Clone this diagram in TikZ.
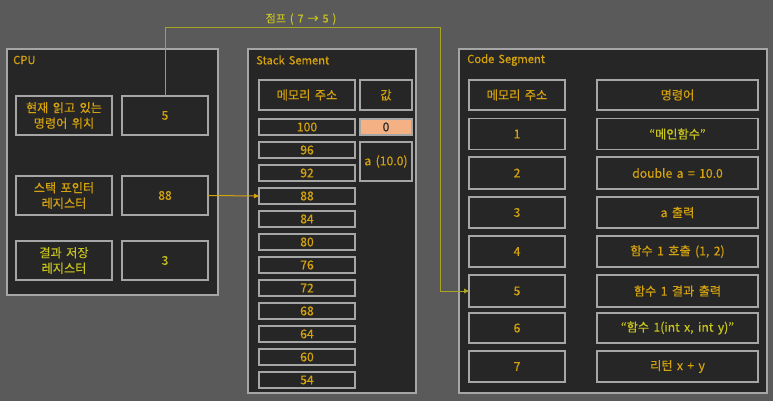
\documentclass[tikz,border=0pt]{standalone}
\usepackage{fontspec}
\setmainfont{Noto Sans CJK KR}[FakeBold=0.4,WordSpace=1.6]
\usetikzlibrary{arrows.meta}
\definecolor{bgc}{HTML}{5A5A5A}
\definecolor{panelc}{HTML}{262626}
\definecolor{edgec}{HTML}{A6A6A6}
\definecolor{goldc}{HTML}{D4A20F}
\definecolor{yelc}{HTML}{C8C41E}
\definecolor{jumpc}{HTML}{A8A424}
\definecolor{salmonc}{HTML}{F4B183}
\tikzset{
  panel/.style={draw=edgec, fill=panelc, line width=1.2pt},
  cell/.style={draw=edgec, fill=panelc, line width=1.3pt, inner sep=0pt, outer sep=0pt,
    text=goldc, align=center, font=\fontsize{12.2}{15.5}\selectfont},
  ycell/.style={cell, text=yelc},
  ptitle/.style={anchor=west, text=goldc, font=\fontsize{11.2}{13}\selectfont, inner sep=0pt},
  jumpline/.style={draw=jumpc, line width=1pt, -{Triangle[length=5pt,width=4.5pt]}},
  ptrline/.style={draw=goldc, line width=1pt, -{Triangle[length=5pt,width=4.5pt]}}
}
\begin{document}
\begin{tikzpicture}[x=1pt,y=-1pt]
\useasboundingbox (0,0) rectangle (773,401);
\fill[bgc] (0,0) rectangle (773,401);
% panels
\draw[panel] (7,49) rectangle (218,295);
\draw[panel] (248,49) rectangle (416,393);
\draw[panel] (459,49) rectangle (767,393);
\node[ptitle] (tcpu) at (13,60) {CPU};
\node[ptitle] (tstk) at (256,60) {Stack Sement};
\node[ptitle] (tcode) at (467,60) {Code Segment};
% CPU
\node[cell, minimum width=96, minimum height=39] (pcl) at (64,115.5) {현재 읽고 있는\\명령어 위치};
\node[cell, minimum width=86, minimum height=39] (pcv) at (165,115.5) {5};
\node[cell, minimum width=96, minimum height=39] (spl) at (64,195.5) {스택 포인터\\레지스터};
\node[cell, minimum width=86, minimum height=39] (spv) at (165,195.5) {88};
\node[ycell, minimum width=96, minimum height=39] (rl) at (64,260.5) {결과 저장\\레지스터};
\node[ycell, minimum width=86, minimum height=39] (rv) at (165,260.5) {3};
% Stack
\node[cell, minimum width=96, minimum height=30] (sh1) at (307,95) {메모리 주소};
\node[cell, minimum width=52, minimum height=30] (sh2) at (386,95) {값};
\foreach \v [count=\i from 0] in {100,96,92,88,84,80,76,72,68,64,60,54}{
  \node[cell, minimum width=96, minimum height=16] (s\v) at (307,127+23*\i) {\v};
}
\node[cell, fill=salmonc, text=black!85, minimum width=52, minimum height=16] (v0) at (386,127) {0};
\node[cell, minimum width=52, minimum height=39] (va) at (386,161.5) {a (10.0)};
% Code
\node[cell, minimum width=96, minimum height=30] (ch1) at (517,95) {메모리 주소};
\node[cell, minimum width=161, minimum height=30] (ch2) at (677.5,95) {명령어};
\node[cell, minimum width=96, minimum height=31] (c1) at (517,134) {1};
\node[ycell, minimum width=161, minimum height=31] (i1) at (677.5,134) {“메인함수”};
\node[cell, minimum width=96, minimum height=32] (c2) at (517,173) {2};
\node[cell, minimum width=161, minimum height=32] (i2) at (677.5,173) {double a = 10.0};
\node[cell, minimum width=96, minimum height=31] (c3) at (517,212.5) {3};
\node[cell, minimum width=161, minimum height=31] (i3) at (677.5,212.5) {a 출력};
\node[cell, minimum width=96, minimum height=31] (c4) at (517,251.5) {4};
\node[cell, minimum width=161, minimum height=31] (i4) at (677.5,251.5) {함수 1 호출 (1, 2)};
\node[cell, minimum width=96, minimum height=32] (c5) at (517,291) {5};
\node[cell, minimum width=161, minimum height=32] (i5) at (677.5,291) {함수 1 결과 출력};
\node[cell, minimum width=96, minimum height=30] (c6) at (517,328) {6};
\node[ycell, minimum width=161, minimum height=30] (i6) at (677.5,328) {“함수 1(int x, int y)”};
\node[cell, minimum width=96, minimum height=31] (c7) at (517,366.5) {7};
\node[cell, minimum width=161, minimum height=31] (i7) at (677.5,366.5) {리턴 x + y};
% connectors
\coordinate (jturn) at (440,28);
\draw[jumpline] (pcv.north) |- (jturn) |- (c5.west);
\node[text=yelc, font=\fontsize{11}{13}\selectfont, inner sep=0pt] (jlab) at (301,19) {점프 ( 7 → 5 )};
\draw[ptrline] (spv.east) -- (s88.west);
\end{tikzpicture}
\end{document}
